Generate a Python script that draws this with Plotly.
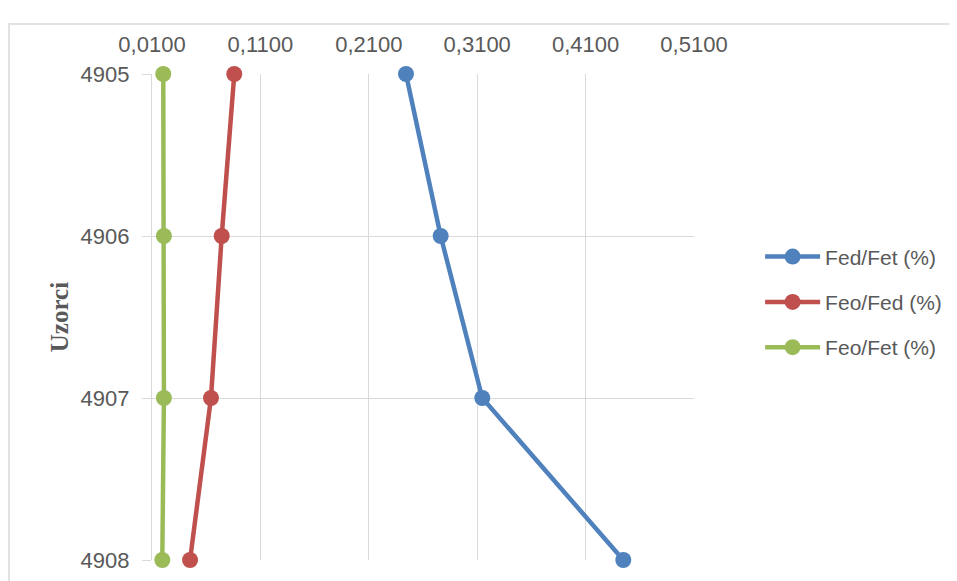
import plotly.graph_objects as go

samples = [4905, 4906, 4907, 4908]
sample_labels = ["4905", "4906", "4907", "4908"]
fed_fet = [0.2443, 0.2763, 0.3147, 0.4448]
feo_fed = [0.0859, 0.0743, 0.0644, 0.0451]
feo_fet = [0.0204, 0.0210, 0.0210, 0.0195]
x_ticks = [0.01, 0.11, 0.21, 0.31, 0.41, 0.51]

series = [
    ("Fed/Fet (%)", fed_fet, "#4F81BD"),
    ("Feo/Fed (%)", feo_fed, "#C0504D"),
    ("Feo/Fet (%)", feo_fet, "#9BBB59"),
]

fig = go.Figure()
for i, (name, vals, col) in enumerate(series):
    fig.add_trace(go.Scatter(
        x=vals, y=samples, name=name, mode="lines+markers",
        line=dict(color=col, width=4.5),
        marker=dict(color=col, size=16),
        cliponaxis=False, legendgroup=f"g{i}",
    ))

FONT = "Liberation Sans, Arial, sans-serif"
fig.update_layout(
    width=957, height=581,
    margin=dict(l=144, r=271, t=66, b=29),
    paper_bgcolor="white", plot_bgcolor="white",
    separators=",.",
    font=dict(family=FONT, size=22, color="#595959"),
    showlegend=True,
    legend=dict(x=1.122, y=0.531, xanchor="left", yanchor="middle",
                tracegroupgap=15, traceorder="grouped",
                font=dict(family=FONT, size=21, color="#595959"),
                itemwidth=55),
    xaxis=dict(range=[0.01, 0.51], tickvals=x_ticks, tickformat=".4f",
               side="top", showgrid=True, gridcolor="#d9d9d9", gridwidth=1.3,
               zeroline=False, showline=False, ticks="",
               ticklabelstandoff=17),
    yaxis=dict(range=[4908, 4905], tickvals=samples, ticktext=sample_labels,
               showgrid=True, gridcolor="#d9d9d9", gridwidth=1.3,
               zeroline=False, showline=True, linecolor="#d9d9d9", linewidth=1.3,
               ticks="outside", ticklen=9, tickcolor="#d9d9d9",
               ticklabelstandoff=8,
               title=dict(text="<b>Uzorci</b>", standoff=4,
                          font=dict(family="Liberation Serif, Times New Roman, serif",
                                    size=25, color="#595959"))),
    shapes=[dict(type="rect", xref="paper", yref="paper",
                 x0=-0.2638, x1=1.8, y0=-0.2, y1=1.1029,
                 line=dict(color="#d9d9d9", width=1.5), layer="below")],
)

fig.write_html("out.html")
